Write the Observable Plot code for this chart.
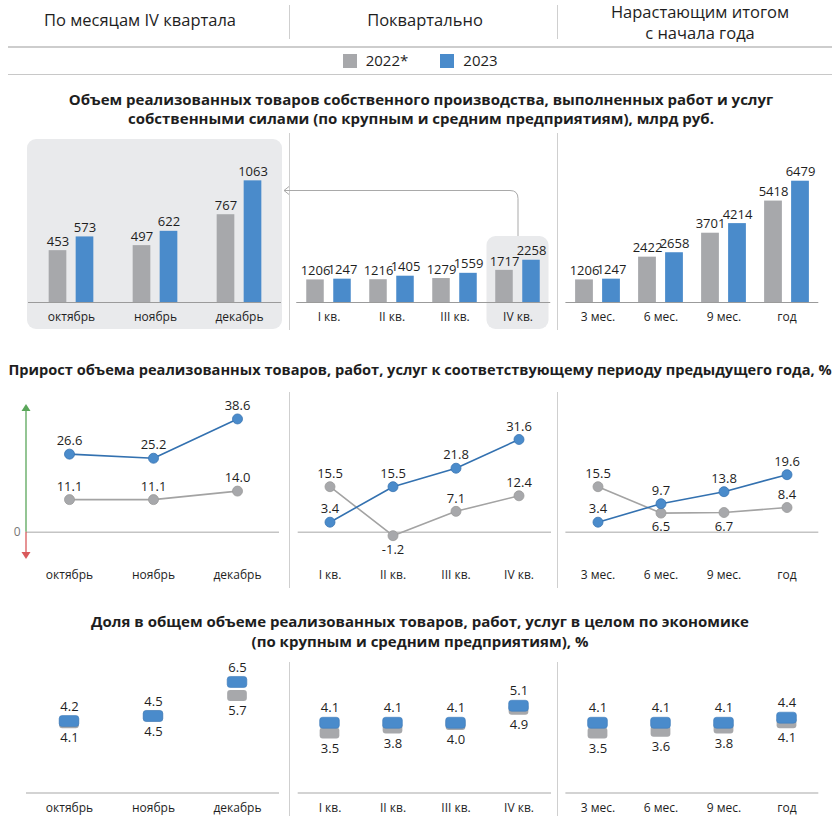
<!DOCTYPE html>
<html><head><meta charset="utf-8">
<script src="https://cdn.jsdelivr.net/npm/d3@7"></script>
<script src="https://cdn.jsdelivr.net/npm/@observablehq/plot@0.6"></script>
<style>
body{margin:0;background:#fff;font-family:"Open Sans",sans-serif;color:#1e1e1e}
#root{position:relative;width:840px;height:823px;overflow:hidden;background:#fff}
.t{position:absolute;transform:translate(-50%,-50%);white-space:nowrap;line-height:1}
svg{overflow:visible}
</style></head><body><div id="root"></div>
<script>
// ---- categories
const months = ["октябрь","ноябрь","декабрь"];
const quarters = ["I кв.","II кв.","III кв.","IV кв."];
const cumul = ["3 мес.","6 мес.","9 мес.","год"];
const years = ["2022*","2023"];
// ---- volume, bln rub
const volMonths2022 = [453,497,767];
const volMonths2023 = [573,622,1063];
const volQuarters2022 = [1206,1216,1279,1717];
const volQuarters2023 = [1247,1405,1559,2258];
const volCumul2022 = [1206,2422,3701,5418];
const volCumul2023 = [1247,2658,4214,6479];
// ---- growth, %
const growthMonths2022 = [11.1,11.1,14.0];
const growthMonths2023 = [26.6,25.2,38.6];
const growthQuarters2022 = [15.5,-1.2,7.1,12.4];
const growthQuarters2023 = [3.4,15.5,21.8,31.6];
const growthCumul2022 = [15.5,6.5,6.7,8.4];
const growthCumul2023 = [3.4,9.7,13.8,19.6];
// ---- share, %
const shareMonths2022 = [4.1,4.5,5.7];
const shareMonths2023 = [4.2,4.5,6.5];
const shareQuarters2022 = [3.5,3.8,4.0,4.9];
const shareQuarters2023 = [4.1,4.1,4.1,5.1];
const shareCumul2022 = [3.5,3.6,3.8,4.1];
const shareCumul2023 = [4.1,4.1,4.1,4.4];

const GRAY="#a7a8ab", BLUE="#4a8bcb", GLINE="#a3a3a3", BLINE="#3371b0", TXT="#1e1e1e", SEP="#cfcfcf";
const FONT='"Open Sans", sans-serif';
const root = document.getElementById("root");
const f1 = v => v.toFixed(1);

function text(str, cx, cy, size, weight){
  const d=document.createElement("div"); d.className="t"; d.textContent=str;
  d.style.left=cx+"px"; d.style.top=cy+"px"; d.style.fontSize=size+"px"; d.style.fontWeight=weight||400;
  root.appendChild(d); return d;
}
function rect(l,t,w,h,bg,r){
  const d=document.createElement("div");
  Object.assign(d.style,{position:"absolute",left:l+"px",top:t+"px",width:w+"px",height:h+"px",background:bg,borderRadius:(r||0)+"px"});
  root.appendChild(d); return d;
}
function put(svg,left,top){ svg.style.position="absolute"; svg.style.left=left+"px"; svg.style.top=top+"px"; root.appendChild(svg); return svg; }
function rows(cats,a,b){ return cats.map((c,i)=>({cat:c, g:a[i], b:b[i]})); }

// ---- header
text("По месяцам IV квартала",140,20,16.5);
text("Поквартально",425,20,16.5);
text("Нарастающим итогом",700,12,16.5);
text("с начала года",700,33,16.5);
rect(289,5,1,34,SEP); rect(557,5,1,34,SEP);
rect(8,45.5,824,2,"#cdcdcd");
rect(343,53.5,14,14,GRAY); text(years[0],387,60,15);
rect(439.5,53.5,14,14,BLUE); text(years[1],480.5,60,15);
rect(8,73.5,824,1,"#c8c8c8");

text("Объем реализованных товаров собственного производства, выполненных работ и услуг",421,99,15,700);
text("собственными силами (по крупным и средним предприятиям), млрд руб.",421,118,15,700);
text("Прирост объема реализованных товаров, работ, услуг к соответствующему периоду предыдущего года, %",420,369,14.6,700);
text("Доля в общем объеме реализованных товаров, работ, услуг в целом по экономике",420,621,15,700);
text("(по крупным и средним предприятиям), %",420,641,15,700);

// separators per row
[[133,197],[392,196],[662,154]].forEach(([t,h])=>{ rect(289,t,1,h,SEP); rect(557,t,1,h,SEP); });

// left gray panel behind monthly bars
rect(27,139,255,190,"#e9eaec",9);

const cols = [
  {cats:months,   vol:[volMonths2022,volMonths2023], gr:[growthMonths2022,growthMonths2023], sh:[shareMonths2022,shareMonths2023],
   r1:{left:0,width:289,ml:28,mr:8,ymax:1503}, r23:{left:0,width:289,ml:26,mr:10}},
  {cats:quarters, vol:[volQuarters2022,volQuarters2023], gr:[growthQuarters2022,growthQuarters2023], sh:[shareQuarters2022,shareQuarters2023],
   r1:{left:289,width:268,ml:7.25,mr:6.75,ymax:9188}, r23:{left:289,width:268,ml:8.7,mr:6}},
  {cats:cumul,    vol:[volCumul2022,volCumul2023], gr:[growthCumul2022,growthCumul2023], sh:[shareCumul2022,shareCumul2023],
   r1:{left:557,width:283,ml:8.4,mr:21.7,ymax:9188}, r23:{left:557,width:283,ml:8.4,mr:21.7}}
];
const base = {background:"transparent", fontFamily:FONT, fontSize:"12px", color:TXT, overflow:"visible"};

const charts1 = [];
cols.forEach((c,ci)=>{
  // ---- row 1 bars
  const g = c.r1, data = rows(c.cats,c.vol[0],c.vol[1]);
  const step = (g.width-g.ml-g.mr)/c.cats.length, ins=(step-18)/2, off=13.5;
  const ch = Plot.plot({
    width:g.width, height:200, marginLeft:g.ml, marginRight:g.mr, marginTop:0, marginBottom:28,
    style:base,
    x:{type:"band", domain:c.cats, padding:0, tickSize:0, tickPadding:10, label:null},
    y:{domain:[0,g.ymax], axis:null},
    marks:[
      Plot.barY(data,{x:"cat", y:"g", fill:GRAY, insetLeft:ins, insetRight:ins, dx:-off}),
      Plot.barY(data,{x:"cat", y:"b", fill:BLUE, insetLeft:ins, insetRight:ins, dx:off}),
      Plot.ruleY([0],{stroke:"#9b9b9b"}),
      Plot.text(data,{x:"cat", y:"g", text:d=>String(d.g), dx:-off, dy:-9, fontSize:13, fill:TXT}),
      Plot.text(data,{x:"cat", y:"b", text:d=>String(d.b), dx:off, dy:-9, fontSize:13, fill:TXT})
    ]
  });
  charts1.push(ch);
  put(ch,g.left,130);

  // ---- row 2 growth lines
  const h = c.r23, gd = rows(c.cats,c.gr[0],c.gr[1]);
  const below = d => d.g < 0 || (d.b - d.g >= 0 && d.b - d.g < 8);
  const ch2 = Plot.plot({
    width:h.width, height:205, marginLeft:h.ml, marginRight:h.mr, marginTop:0, marginBottom:29,
    style:base,
    x:{type:"band", domain:c.cats, padding:0, tickSize:0, tickPadding:9, label:null},
    y:{domain:[-10,50], ticks:[0], tickSize:0, tickPadding:6, label:null, axis: ci===0 ? "left" : null},
    marks:[
      Plot.ruleY([0],{stroke:"#c4c4c4", strokeWidth:1.5}),
      Plot.line(gd,{x:"cat", y:"g", stroke:GLINE, strokeWidth:1.6}),
      Plot.line(gd,{x:"cat", y:"b", stroke:BLINE, strokeWidth:1.6}),
      Plot.dot(gd,{x:"cat", y:"g", r:5, fill:GRAY, stroke:"#9a9a9a", strokeWidth:0.8}),
      Plot.dot(gd,{x:"cat", y:"b", r:5, fill:BLUE, stroke:"#3a75b2", strokeWidth:0.8}),
      Plot.text(gd.filter(d=>!below(d)),{x:"cat", y:"g", text:d=>f1(d.g), dy:-13, fontSize:13, fill:TXT}),
      Plot.text(gd.filter(below),{x:"cat", y:"g", text:d=>f1(d.g), dy:14, fontSize:13, fill:TXT}),
      Plot.text(gd,{x:"cat", y:"b", text:d=>f1(d.b), dy:-13, fontSize:13, fill:TXT})
    ]
  });
  put(ch2,h.left,385);
  if (ci===0){
    const sv = d3.select(ch2), ys = ch2.scale("y");
    sv.selectAll("text").filter(function(){return this.textContent==="0";}).attr("fill","#777");
    const x0 = h.ml, z = ys.apply(0), up = ys.apply(43.5), dn = ys.apply(-9.3);
    sv.append("line").attr("x1",x0).attr("x2",x0).attr("y1",z).attr("y2",up+6).attr("stroke","#5aa65a").attr("stroke-width",1.3);
    sv.append("path").attr("d",`M${x0-4.5},${up+7}L${x0},${up}L${x0+4.5},${up+7}Z`).attr("fill","#5aa65a");
    sv.append("line").attr("x1",x0).attr("x2",x0).attr("y1",z).attr("y2",dn-6).attr("stroke","#d9595b").attr("stroke-width",1.3);
    sv.append("path").attr("d",`M${x0-4.5},${dn-7}L${x0},${dn}L${x0+4.5},${dn-7}Z`).attr("fill","#d9595b");
  }

  // ---- row 3 share markers
  const sd = rows(c.cats,c.sh[0],c.sh[1]);
  const step3 = (h.width-h.ml-h.mr)/c.cats.length, ins3=(step3-20)/2;
  const ch3 = Plot.plot({
    width:h.width, height:170, marginLeft:h.ml, marginRight:h.mr, marginTop:0, marginBottom:27.5,
    style:base,
    x:{type:"band", domain:c.cats, padding:0, tickSize:0, tickPadding:10, label:null},
    y:{domain:[0,8.38], axis:null},
    marks:[
      Plot.ruleY([0],{stroke:"#c4c4c4", strokeWidth:1.5}),
      Plot.barY(sd,{x:"cat", y1:"g", y2:"g", fill:GRAY, insetLeft:ins3, insetRight:ins3, insetTop:-5.5, insetBottom:-5.5, rx:3}),
      Plot.barY(sd,{x:"cat", y1:"b", y2:"b", fill:BLUE, stroke:"#3f7cbb", strokeWidth:0.6, insetLeft:ins3, insetRight:ins3, insetTop:-5.5, insetBottom:-5.5, rx:3}),
      Plot.text(sd,{x:"cat", y:"b", text:d=>f1(d.b), dy:-15, fontSize:13, fill:TXT}),
      Plot.text(sd,{x:"cat", y:"g", text:d=>f1(d.g), dy:15, fontSize:13, fill:TXT})
    ]
  });
  put(ch3,h.left,650);
});

// ---- IV quarter highlight and arrow to monthly panel
(function(){
  const ch = charts1[1], xs = ch.scale("x"), ys = ch.scale("y");
  const cx = xs.apply("IV кв.") + xs.bandwidth/2, z = ys.apply(0);
  d3.select(ch).insert("rect",":first-child")
    .attr("x",cx-31).attr("y",z-66).attr("width",62).attr("height",93).attr("rx",9).attr("fill","#e9eaec");
  const ax = cols[1].r1.left + cx + 0.5, topY = 130 + z - 66, yA = 190.5;
  const ov = d3.select(root).append("svg").attr("width",840).attr("height",823)
    .style("position","absolute").style("left","0px").style("top","0px").style("pointer-events","none");
  ov.append("path").attr("d",`M${ax},${topY}V${yA+8}Q${ax},${yA} ${ax-8},${yA}H284`)
    .attr("fill","none").attr("stroke","#a9a9a9").attr("stroke-width",1);
  ov.append("path").attr("d",`M289,${yA-4}L284,${yA}L289,${yA+4}`).attr("fill","none").attr("stroke","#a9a9a9").attr("stroke-width",1);
})();
</script></body></html>
